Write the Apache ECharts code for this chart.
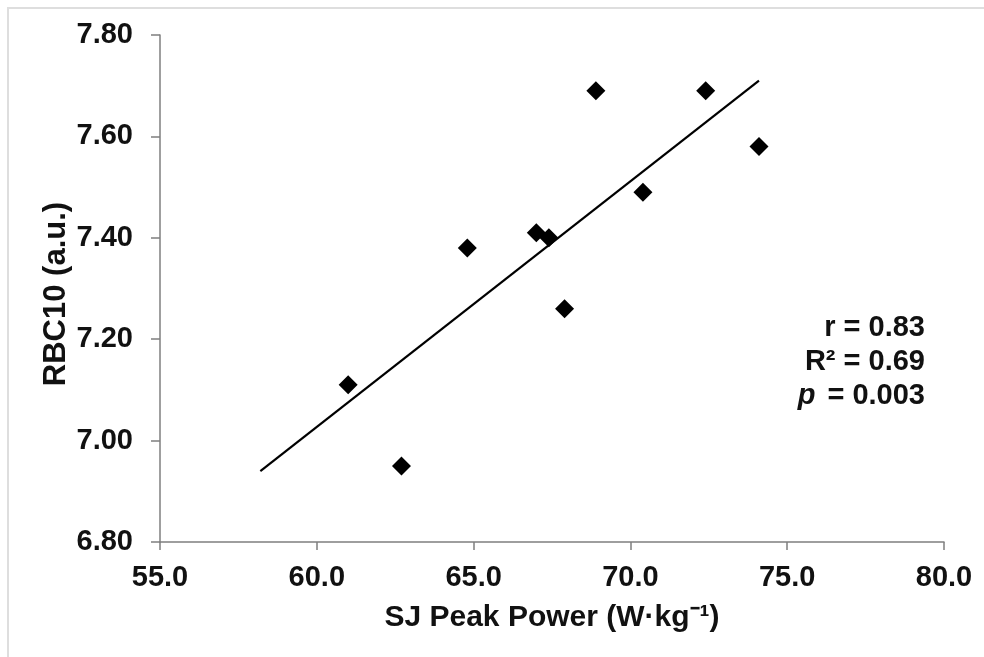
<!DOCTYPE html>
<html>
<head>
<meta charset="utf-8">
<script src="https://cdn.jsdelivr.net/npm/echarts@6/dist/echarts.min.js"></script>
<style>
html,body{margin:0;padding:0;background:#fff;}
#chart{width:984px;height:657px;}
</style>
</head>
<body>
<div id="chart"></div>
<script>
// Data
var sjPeakPower = [61.0, 62.7, 64.8, 67.0, 67.4, 70.4, 67.9, 68.9, 72.4, 74.1];
var rbc10 = [7.11, 6.95, 7.38, 7.41, 7.40, 7.49, 7.26, 7.69, 7.69, 7.58];
var trendX = [58.2, 74.1];
var trendY = [6.94, 7.71];
var xTicks = [55, 60, 65, 70, 75, 80];
var yTicks = [6.8, 7.0, 7.2, 7.4, 7.6, 7.8];
var statsLines = ['r = 0.83', 'R\u00B2 = 0.69', '0.003'];
var yTitle = 'RBC10 (a.u.)';
var xTitle = 'SJ Peak Power (W\u00B7kg\u207B\u00B9)';

var FONT = '"Liberation Sans", Arial, sans-serif';
var points = sjPeakPower.map(function (x, i) { return [x, rbc10[i]]; });
var trend = trendX.map(function (x, i) { return [x, trendY[i]]; });

var chart = echarts.init(document.getElementById('chart'));
chart.setOption({
  backgroundColor: '#ffffff',
  animation: false,
  textStyle: { fontFamily: FONT },
  grid: { left: 160, right: 40, top: 35, bottom: 115, containLabel: false },
  xAxis: {
    type: 'value',
    min: xTicks[0], max: xTicks[xTicks.length - 1], interval: 5,
    name: xTitle,
    nameLocation: 'middle', nameGap: 61,
    nameTextStyle: { fontSize: 30, fontWeight: 'bold', color: '#111', fontFamily: FONT },
    axisLine: { lineStyle: { color: '#7f7f7f', width: 1.5 } },
    axisTick: { show: true, length: 8, lineStyle: { color: '#7f7f7f', width: 1.5 } },
    splitLine: { show: false },
    axisLabel: { margin: 21, fontSize: 29, fontWeight: 'bold', color: '#111', fontFamily: FONT,
      formatter: function (v) { return v.toFixed(1); } }
  },
  yAxis: {
    type: 'value',
    min: yTicks[0], max: yTicks[yTicks.length - 1], interval: 0.2,
    axisLine: { show: true, lineStyle: { color: '#7f7f7f', width: 1.5 } },
    axisTick: { show: true, length: 9, lineStyle: { color: '#7f7f7f', width: 1.5 } },
    splitLine: { show: false },
    axisLabel: { margin: 27, fontSize: 29, fontWeight: 'bold', color: '#111', fontFamily: FONT,
      formatter: function (v) { return v.toFixed(2); } }
  },
  series: [
    {
      type: 'line',
      data: trend,
      symbol: 'none',
      lineStyle: { color: '#000', width: 2.2 },
      z: 2
    },
    {
      type: 'scatter',
      data: points,
      symbol: 'diamond',
      symbolSize: [19, 19],
      itemStyle: { color: '#000', opacity: 1 },
      z: 3
    }
  ],
  graphic: [
    {
      type: 'rect',
      shape: { x: 8, y: 8, width: 1100, height: 800 },
      style: { fill: 'none', stroke: '#dedede', lineWidth: 2 },
      silent: true
    },
    {
      type: 'text', x: 56, y: 294, rotation: Math.PI / 2,
      style: { text: yTitle, fontSize: 31, fontWeight: 'bold', fill: '#111', fontFamily: FONT,
        textAlign: 'center', textVerticalAlign: 'middle', align: 'center', verticalAlign: 'middle' }
    },
    {
      type: 'text', right: 59, top: 313,
      style: { text: statsLines[0], fontSize: 29, fontWeight: 'bold', fill: '#111', fontFamily: FONT, textAlign: 'right' }
    },
    {
      type: 'text', right: 59, top: 347,
      style: { text: statsLines[1], fontSize: 29, fontWeight: 'bold', fill: '#111', fontFamily: FONT, textAlign: 'right' }
    },
    {
      type: 'text', right: 59, top: 381,
      style: {
        text: '{i|p}{b| = ' + statsLines[2] + '}',
        rich: {
          i: { fontSize: 29, fontWeight: 'bold', fontStyle: 'italic', fill: '#111', fontFamily: FONT, padding: [0, 4, 0, 0] },
          b: { fontSize: 29, fontWeight: 'bold', fill: '#111', fontFamily: FONT }
        },
        textAlign: 'right'
      }
    }
  ]
});
</script>
</body>
</html>
